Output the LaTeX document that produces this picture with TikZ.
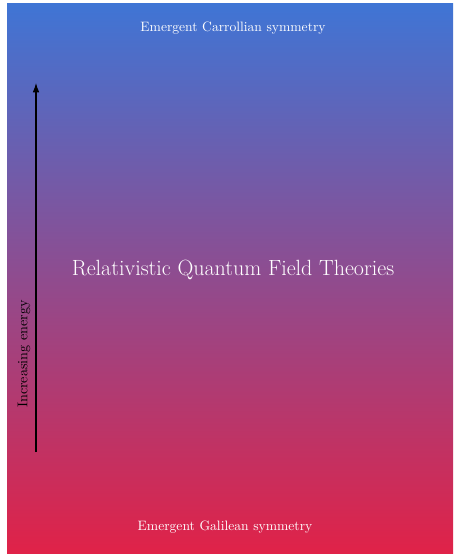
\documentclass[tikz,border=0pt]{standalone}
\usepackage{fontspec}
\usetikzlibrary{arrows.meta}
\definecolor{topblue}{RGB}{63,117,213}
\definecolor{midpurple}{RGB}{142,76,144}
\definecolor{botred}{RGB}{224,34,72}
\tikzset{
  lbl/.style={text=white,inner sep=0.75pt,anchor=center},
}
\begin{document}
\begin{tikzpicture}[x=0.75pt,y=0.75pt,yscale=-1,xscale=1]
\useasboundingbox (0,0) rectangle (454,554);

%Shape: Rectangle [id:bg]
\shade [top color=topblue,middle color=midpurple,bottom color=botred] (7,3) rectangle (453,553);

%Straight Lines [id:energy]
\coordinate (elow) at (36,452);
\coordinate (ehigh) at (36,83);
\draw [line width=0.8pt,-{Latex[length=7pt,width=5pt]}] (elow) -- (ehigh);

% Text Node
\node (carroll) [lbl,font=\fontsize{10.2}{12}\selectfont] at (233,28) {Emergent Carrollian symmetry};
% Text Node
\node (rqft) [lbl,font=\fontsize{16.5}{19}\selectfont] at (233,270) {Relativistic Quantum Field Theories};
% Text Node
\node (galilei) [lbl,font=\fontsize{10.2}{12}\selectfont] at (225,527) {Emergent Galilean symmetry};
% Text Node
\node (energy) [inner sep=0.75pt,rotate=90,font=\fontsize{10.6}{12}\selectfont] at (24,354) {Increasing energy};

\end{tikzpicture}
\end{document}
